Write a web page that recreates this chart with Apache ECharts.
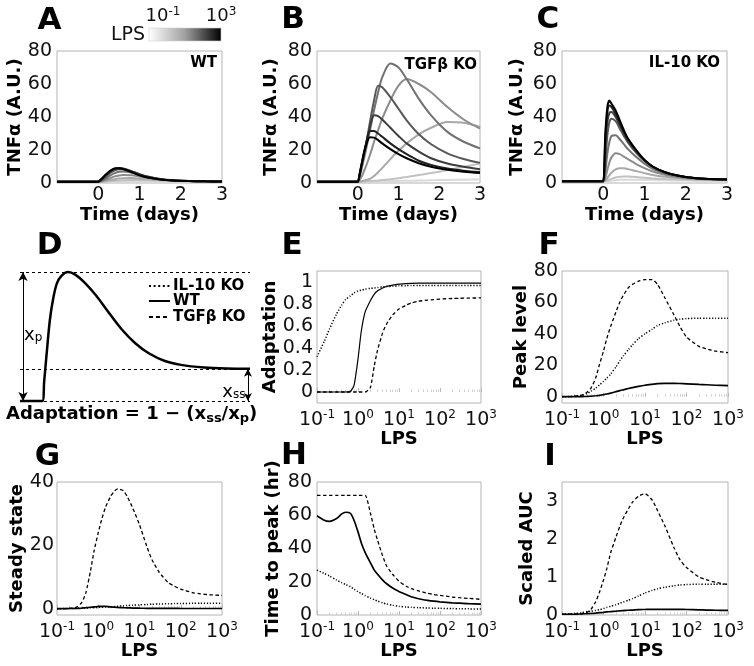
<!DOCTYPE html>
<html><head><meta charset="utf-8">
<script src="https://cdn.jsdelivr.net/npm/echarts@6/dist/echarts.min.js"></script>
<style>html,body{margin:0;padding:0;background:#fff}#c{width:754px;height:666px}</style>
</head><body><div id="c"></div>
<script>
// ---------- data ----------
const T = [-1,-0.05,0,0.05,0.1,0.15,0.2,0.3,0.4,0.5,0.6,0.8,1.0,1.2,1.5,1.8,2.2,2.6,3.0];
const doses = [0.1,0.3,1,3,10,30,100,300,1000];
const doseColors = ['#dadada','#c2c2c2','#a8a8a8','#8c8c8c','#717171','#575757','#3c3c3c','#202020','#000000'];
// WT TNFa time courses (one per dose, low -> high)
const wtTime = [
 [0.8,0.8,0.8,0.8,0.8,0.8,0.85,0.9,0.95,1,1.05,1.1,1.15,1.15,1.1,1.05,1,0.95,0.9],
 [0.8,0.8,0.8,0.8,0.85,0.9,0.95,1.1,1.3,1.45,1.6,1.75,1.75,1.65,1.45,1.25,1.05,0.95,0.9],
 [0.8,0.8,0.8,0.85,0.95,1.1,1.3,1.8,2.3,2.7,2.9,3,2.8,2.4,1.8,1.4,1.1,0.95,0.9],
 [0.8,0.8,0.8,0.9,1.2,1.6,2.1,3.1,4,4.6,4.9,4.7,4,3.2,2.2,1.55,1.15,1,0.9],
 [0.8,0.8,0.8,1.1,1.6,2.3,3.1,4.7,6,6.8,7,6.4,5,3.8,2.4,1.65,1.2,1,0.9],
 [0.8,0.8,0.8,1.3,2.1,3.1,4.2,6.2,7.7,8.4,8.4,7.2,5.4,3.9,2.4,1.65,1.2,1,0.9],
 [0.8,0.8,0.8,1.5,2.6,3.8,5,7.2,8.6,9.1,8.8,7.2,5.2,3.7,2.3,1.6,1.2,1,0.9],
 [0.8,0.8,0.8,1.7,2.9,4.2,5.4,7.5,8.8,9,8.6,6.9,4.9,3.5,2.2,1.55,1.15,1,0.9],
 [0.8,0.8,0.8,1.8,3,4.3,5.5,7.6,8.8,8.9,8.4,6.6,4.6,3.3,2.1,1.5,1.15,1,0.9]
];
// TGFb KO time courses
const tgfTime = [
 [0.8,0.8,0.8,0.8,0.8,0.8,0.85,0.9,0.95,1,1.05,1.15,1.25,1.35,1.5,1.65,1.85,2,2.1],
 [0.8,0.8,0.8,0.82,0.85,0.9,0.95,1.1,1.3,1.5,1.75,2.3,2.9,3.6,4.8,6,7.8,9.8,11.8],
 [0.8,0.8,0.8,0.9,1.1,1.4,1.8,2.5,4.2,6.5,9,14.5,19.5,24,29.5,33.5,37,36.5,34],
 [0.8,0.8,0.8,2,4,7,10,17,25,32,39,50,59,63,60,55,46,38.5,33],
 [0.8,0.8,0.8,4,9,14.5,20,32,44,55,64,72.5,70,63,51,41,31,25,21],
 [0.8,0.8,0.8,5,11,17,23,37,50,59,58,52,45,38,29.5,23.5,18,14.5,12.2],
 [0.8,0.8,0.8,5.5,11.5,17.5,23,34,41,40.5,38.5,33.5,28.5,24,19,15,11.8,9.8,8.3],
 [0.8,0.8,0.8,6,12,18,23.5,31.5,31.5,30,28,24,20.5,17.5,13.5,11,8.8,7.5,6.6],
 [0.8,0.8,0.8,6,12,18,22.5,27.7,27.5,26,24,20.5,17.5,15,12,9.8,8,6.8,6]
];
// IL-10 KO time courses
const il10Time = [
 [1,1,1,1,1.1,1.25,1.4,1.7,1.9,2,2,1.95,1.85,1.75,1.6,1.5,1.4,1.35,1.3],
 [1,1,1,1.1,1.5,2,2.5,3.3,3.8,4,3.9,3.6,3.2,2.8,2.4,2.1,1.8,1.7,1.6],
 [1,1,1,1.5,3,4.8,6.2,8.2,9,8.9,8.4,7.2,6,4.9,3.8,3,2.4,2.1,1.9],
 [1,1,1,3,8,12.5,15.5,18,17.5,16,14.5,11.5,9,7,5,3.7,2.7,2.2,2],
 [1,1,1,7,18,25,28.5,29,26.5,23.5,20.5,15.7,11.7,8.6,5.8,4.1,2.9,2.3,2.05],
 [1,1,1,13,29,37,39,37.5,33,28.5,24.5,18.3,13.3,9.6,6.3,4.4,3,2.4,2.1],
 [1,1,1,21,37,42.5,43,40,35,30,25.5,19,13.7,9.8,6.4,4.5,3,2.4,2.1],
 [1,1,1,27,43,47,46,42,36.5,31,26.5,19.5,14,10,6.5,4.5,3,2.4,2.1],
 [1,1,1,30,46,50,48,44,38,32,27,20,14,10,6.5,4.5,3,2.4,2.1]
];
// dose-response summaries
const LPS = [0.1,0.15,0.2,0.3,0.4,0.5,0.65,0.8,1,1.2,1.5,2,2.5,3,4,5,7,10,15,20,30,50,70,100,200,300,500,1000];
const adaptIL10 = [0.32,0.46,0.57,0.71,0.79,0.84,0.875,0.9,0.918,0.925,0.935,0.942,0.946,0.95,0.955,0.958,0.962,0.965,0.967,0.968,0.968,0.968,0.968,0.968,0.968,0.968,0.968,0.968];
const adaptWT   = [0,0,0,0,0,0,0.005,0.06,0.3,0.55,0.73,0.83,0.89,0.92,0.945,0.96,0.972,0.98,0.985,0.988,0.99,0.99,0.99,0.99,0.99,0.99,0.99,0.99];
const adaptTGF  = [0,0,0,0,0,0,0,0,0,0,0,0.04,0.24,0.38,0.54,0.62,0.7,0.755,0.79,0.81,0.825,0.835,0.84,0.845,0.85,0.852,0.854,0.855];
const peakIL10 = [0,0.1,0.3,0.9,2,3.5,5.5,7.5,9.8,11.8,14.5,19,23,26,30,33,37,40,43,45.3,47,48.7,49.3,49.7,50,50,50,50];
const peakWT   = [0,0,0,0.1,0.2,0.3,0.6,0.9,1.3,1.7,2.3,3.2,3.9,4.4,5.2,5.8,6.6,7.3,7.9,8.3,8.5,8.5,8.4,8.2,7.8,7.6,7.3,7];
const peakTGF  = [0,0,0.3,1,2.8,5.5,12,20.5,29,37,45,54,60.5,64.5,69.5,71.5,73.5,74.5,74.5,71.5,63,52,44.5,38,32,30.5,29,28];
const ssIL10 = [0,0.02,0.05,0.1,0.15,0.2,0.27,0.33,0.4,0.45,0.52,0.6,0.7,0.8,0.9,1,1.1,1.2,1.3,1.4,1.48,1.55,1.6,1.65,1.68,1.7,1.7,1.7];
const ssWT   = [0,0.02,0.05,0.1,0.2,0.3,0.45,0.55,0.7,0.75,0.7,0.55,0.47,0.4,0.32,0.25,0.2,0.15,0.12,0.1,0.1,0.08,0.07,0.06,0.05,0.05,0.05,0.05];
const ssTGF  = [0,0,0.1,0.5,2,5,12,18.5,24,28,32,35.5,37.2,37.8,37.3,35.5,31.5,26.5,19.7,15.5,11.5,8.2,7.1,6.2,5,4.7,4.4,4.2];
const ttpIL10 = [27,25,23.5,21,19.5,18.3,17,15.5,14,13,11.7,10.2,9.2,8.4,7.3,6.6,5.8,5.2,4.8,4.6,4.4,4.2,4.1,4,3.85,3.8,3.7,3.6];
const ttpWT   = [59.7,57,56.3,58,60.8,61.8,61.2,57,50,43.5,37.5,31.5,27,24.5,21,18.8,16.2,14.2,12.3,11,9.8,8.8,8.3,7.9,7.3,7.1,6.8,6.6];
const ttpTGF  = [72,72,72,72,72,72,72,72,72,72,72,61.5,51.5,45,35.5,29.5,24.5,20.3,17.3,15.8,14.5,13,12.3,11.8,10.8,10.4,10,9.4];
const aucIL10 = [0.02,0.03,0.04,0.06,0.09,0.1,0.12,0.14,0.17,0.2,0.23,0.27,0.31,0.34,0.39,0.43,0.5,0.58,0.65,0.69,0.73,0.77,0.79,0.8,0.81,0.81,0.81,0.81];
const aucWT   = [0.02,0.02,0.02,0.03,0.035,0.04,0.05,0.06,0.07,0.08,0.09,0.1,0.11,0.115,0.125,0.13,0.14,0.145,0.15,0.15,0.15,0.15,0.148,0.145,0.135,0.13,0.125,0.12];
const aucTGF  = [0.02,0.02,0.025,0.035,0.07,0.15,0.35,0.6,0.92,1.22,1.65,2.05,2.35,2.55,2.8,2.97,3.13,3.19,3.02,2.75,2.35,1.77,1.45,1.25,1.0,0.93,0.86,0.8];
// schematic (panel D)
const Dx = [0,9.7,10.5,11.5,13,14.5,16,18,20.9,24,28,33,38,44,50,56,63,70,80,90,100];
const Dy = [0,0,0.15,0.35,0.63,0.8,0.91,0.97,1,0.98,0.92,0.82,0.7,0.56,0.45,0.37,0.31,0.28,0.26,0.252,0.25];
const D_PEAK = 1, D_SS = 0.25;
const timeTicks = [0,1,2,3];
const legendNames = ['IL-10 KO','WT','TGFβ KO'];

// ---------- chart ----------
const F = 'DejaVu Sans';
const chart = echarts.init(document.getElementById('c'), null, {renderer:'canvas', width:754, height:666});
const gridBoxes = [
 {left:57, top:51, width:165, height:132},
 {left:317, top:51, width:163, height:132},
 {left:562, top:51, width:165, height:132},
 {left:20, top:272, width:230, height:129},
 {left:317, top:271, width:164, height:132},
 {left:562, top:271, width:166, height:132},
 {left:57, top:482, width:165, height:133},
 {left:317, top:482, width:164, height:133},
 {left:562, top:482, width:166, height:133}
];
const grids = gridBoxes.map((g,i)=>Object.assign({show: i!==3, borderColor:'#b4b4b4', borderWidth:1, backgroundColor:'transparent', outerBoundsMode:'none', containLabel:false}, g));
const nameStyle = {fontFamily:F, fontWeight:'bold', fontSize:18, color:'#000'};
const lbl = {fontFamily:F, fontSize:19, color:'#111'};

function valY(gi, min, max, interval, name, gap, every, margin){
  return {type:'value', gridIndex:gi, min, max, interval, name, nameLocation:'middle', nameGap:gap, nameRotate:90,
    nameTextStyle:nameStyle, axisLine:{show:false}, axisTick:{show:false}, splitLine:{show:false},
    axisLabel:Object.assign({}, lbl, {margin:margin, formatter: v => {
      const k = Math.round(v/every*1e6)/1e6;
      return Number.isInteger(k) ? String(+(v.toFixed(2))) : '';
    }})};
}
function timeX(gi){
  return {type:'value', gridIndex:gi, min:-1, max:3, interval:1, name:'Time (days)', nameLocation:'middle', nameGap:22,
    nameTextStyle:nameStyle, axisLine:{show:false}, axisTick:{show:false}, splitLine:{show:false},
    axisLabel:Object.assign({}, lbl, {margin:3, formatter: v => timeTicks.indexOf(v) >= 0 ? String(v) : ''})};
}
function logX(gi, gap){
  return {type:'log', logBase:10, gridIndex:gi, min:0.1, max:1000, name:'LPS', nameLocation:'middle', nameGap:gap,
    nameTextStyle:nameStyle, axisLine:{show:false},
    axisTick:{show:true, inside:true, length:4, lineStyle:{color:'#b8b8b8'}},
    minorTick:{show:true, splitNumber:9, length:2.5, lineStyle:{color:'#cfcfcf'}},
    splitLine:{show:false}, minorSplitLine:{show:false},
    axisLabel:{margin:6, formatter: v => '{b|10}{s|' + Math.round(Math.log10(v)) + '}',
      rich:{b:{fontFamily:F, fontSize:19, color:'#111', lineHeight:22}, s:{fontFamily:F, fontSize:12, color:'#111', verticalAlign:'top', lineHeight:13}}}};
}
const xAxes = [timeX(0), timeX(1), timeX(2),
  {type:'value', gridIndex:3, min:0, max:100, show:false},
  logX(4,21), logX(5,21), logX(6,27), logX(7,27), logX(8,27)];
const yAxes = [
  valY(0,0,80,20,'TNFα (A.U.)',32,20,5),
  valY(1,0,80,20,'TNFα (A.U.)',37,20,5),
  valY(2,0,80,20,'TNFα (A.U.)',36,20,5),
  {type:'value', gridIndex:3, min:0, max:1, show:false},
  valY(4,-0.1,1.1,0.1,'Adaptation',35,0.2,4),
  valY(5,-4,80,4,'Peak level',27,20,4),
  valY(6,-2,40,2,'Steady state',27,20,3),
  valY(7,0,80,20,'Time to peak (hr)',35,20,5),
  valY(8,0,3.5,0.5,'Scaled AUC',25.5,1,4)
];

const series = [];
function addTime(gi, sets){
  sets.forEach((vals,k)=>{
    series.push({type:'line', name:'LPS '+doses[k], xAxisIndex:gi, yAxisIndex:gi, data:T.map((t,i)=>[t, vals[i]]),
      symbol:'none', smooth:0.3, silent:true, z:2+k,
      lineStyle:{color:doseColors[k], width:2}, itemStyle:{color:doseColors[k]}});
  });
}
addTime(0, wtTime); addTime(1, tgfTime); addTime(2, il10Time);

const lstyle = {'IL-10 KO':{type:[1.2,1.8], width:1.5}, 'WT':{type:'solid', width:1.7}, 'TGFβ KO':{type:[3.5,2.5], width:1.3}};
function addLps(gi, name, vals, w){
  series.push({type:'line', name, xAxisIndex:gi, yAxisIndex:gi, data:LPS.map((x,i)=>[x, vals[i]]),
    symbol:'none', smooth:0.2, silent:true,
    lineStyle:{color:'#000', width: w || lstyle[name].width, type:lstyle[name].type}, itemStyle:{color:'#000'}});
}
addLps(4,'IL-10 KO',adaptIL10); addLps(4,'WT',adaptWT,1.2); addLps(4,'TGFβ KO',adaptTGF);
addLps(5,'IL-10 KO',peakIL10); addLps(5,'WT',peakWT); addLps(5,'TGFβ KO',peakTGF);
addLps(6,'IL-10 KO',ssIL10); addLps(6,'WT',ssWT); addLps(6,'TGFβ KO',ssTGF);
addLps(7,'IL-10 KO',ttpIL10); addLps(7,'WT',ttpWT); addLps(7,'TGFβ KO',ttpTGF);
addLps(8,'IL-10 KO',aucIL10); addLps(8,'WT',aucWT); addLps(8,'TGFβ KO',aucTGF);

// schematic
const subRich = {x:{fontFamily:F, fontSize:18, color:'#000'}, s:{fontFamily:F, fontSize:12, color:'#000', verticalAlign:'bottom'}};
series.push({type:'line', name:'schematic', xAxisIndex:3, yAxisIndex:3, data:Dx.map((x,i)=>[x, Dy[i]]),
  symbol:'none', smooth:0.3, clip:false, silent:true, z:5, lineStyle:{color:'#000', width:2.5},
  markLine:{silent:true, symbol:['none','none'], label:{show:false}, animation:false,
    lineStyle:{color:'#000', width:1, type:[3,3]},
    data:[
      [{coord:[0,D_PEAK]},{coord:[100,D_PEAK]}],
      [{coord:[0,D_SS]},{coord:[100,D_SS]}],
      [{coord:[0,0]},{coord:[100,0]}],
      [{coord:[1.3,0], symbol:'arrow', symbolSize:[7,9], lineStyle:{type:'solid', width:1}},{coord:[1.3,D_PEAK], symbol:'arrow', symbolSize:[7,9]}],
      [{coord:[99.1,D_SS], symbol:'arrow', symbolSize:[6,8], lineStyle:{type:'solid', width:1}},{coord:[99.1,0], symbol:'arrow', symbolSize:[6,8]}]
    ]},
  markPoint:{silent:true, symbol:'circle', symbolSize:0, animation:false,
    data:[
      {coord:[5.7,0.51], label:{show:true, position:'inside', formatter:'{x|x}{s|p}', rich:subRich}},
      {coord:[93,0.07], label:{show:true, position:'inside', formatter:'{x|x}{s|ss}', rich:subRich}}
    ]}
});

const letters = [['A',49.5,21],['B',293,20],['C',548,20],['D',49.5,246],['E',292,246],['F',549,246],['G',47.5,457],['H',294,456],['I',550,457]];
const graphic = letters.map(l=>({type:'text', x:l[1], y:l[2], silent:true,
  style:{text:l[0], font:'bold 31px "DejaVu Sans"', fill:'#000', align:'center', verticalAlign:'middle', textAlign:'center', textVerticalAlign:'middle'}}));
[['WT',217,63],['TGFβ KO',477,65],['IL-10 KO',720,63]].forEach(l=>graphic.push({type:'text', x:l[1], y:l[2], silent:true,
  style:{text:l[0], font:'bold 15px "DejaVu Sans"', fill:'#000', align:'right', verticalAlign:'middle', textAlign:'right', textVerticalAlign:'middle'}}));
// legend of panel D (line keys + labels)
const legendDash = [[2,2.6],null,[4,3]];
const legendRows = [286,301,317];
legendNames.forEach((n,i)=>{
  graphic.push({type:'line', silent:true, shape:{x1:149, y1:legendRows[i], x2:170, y2:legendRows[i]},
    style:{stroke:'#000', lineWidth: i===1 ? 2 : 2, lineDash: legendDash[i] || null}});
  graphic.push({type:'text', x:173, y:legendRows[i], silent:true,
    style:{text:n, font:'bold 15px "DejaVu Sans"', fill:'#000', align:'left', verticalAlign:'middle', textAlign:'left', textVerticalAlign:'middle'}});
});
// colour bar
graphic.push({type:'rect', shape:{x:149, y:28, width:72, height:13}, silent:true,
  style:{fill:new echarts.graphic.LinearGradient(0,0,1,0,[{offset:0,color:'#ffffff'},{offset:0.5,color:'#a0a0a0'},{offset:1,color:'#000000'}]), stroke:'#d0d0d0', lineWidth:0.6}});
graphic.push({type:'text', x:145, y:35, silent:true, style:{text:'LPS', font:'19px "DejaVu Sans"', fill:'#111', align:'right', verticalAlign:'middle', textAlign:'right', textVerticalAlign:'middle'}});
const supRich = {b:{fontFamily:F, fontSize:18, fill:'#111', color:'#111', lineHeight:20}, s:{fontFamily:F, fontSize:12, fill:'#111', color:'#111', verticalAlign:'top', lineHeight:12}};
graphic.push({type:'text', x:163, y:16, silent:true, style:{text:'{b|10}{s|-1}', rich:supRich, align:'center', verticalAlign:'middle', textAlign:'center', textVerticalAlign:'middle'}});
graphic.push({type:'text', x:221, y:16, silent:true, style:{text:'{b|10}{s|3}', rich:supRich, align:'center', verticalAlign:'middle', textAlign:'center', textVerticalAlign:'middle'}});

chart.setOption({
  animation:false,
  backgroundColor:'#fff',
  grid:grids, xAxis:xAxes, yAxis:yAxes, series:series, graphic:graphic,
  title:[{text:'Adaptation = 1 − (x{s|ss}/x{s|p})', left:6, top:403, padding:0,
    textStyle:{fontFamily:F, fontWeight:'bold', fontSize:18, color:'#000', lineHeight:22,
      rich:{s:{fontFamily:F, fontWeight:'bold', fontSize:13, color:'#000', verticalAlign:'bottom', lineHeight:14}}}}]
});
</script></body></html>
